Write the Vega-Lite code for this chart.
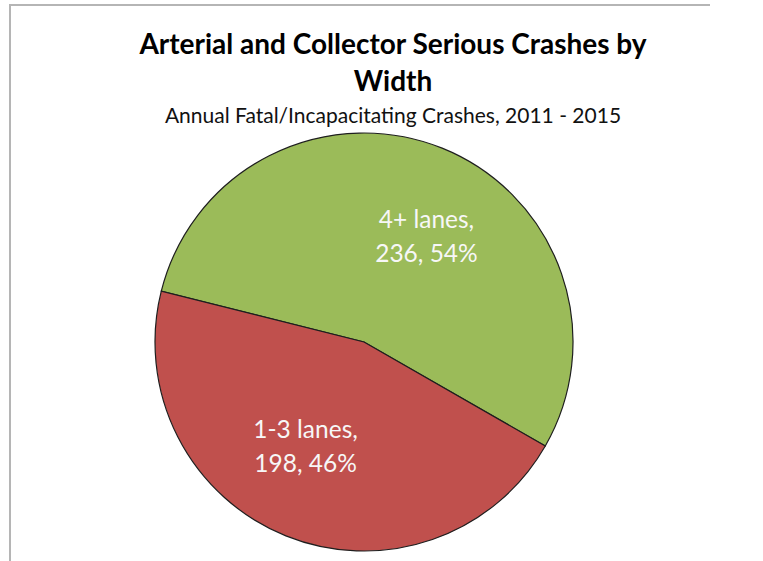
{
  "$schema": "https://vega.github.io/schema/vega-lite/v6.json",
  "autosize": {"type": "none"},
  "padding": {"left": 10, "top": 5, "right": 45, "bottom": -118},
  "width": 708,
  "height": 674,
  "background": "white",
  "view": {"stroke": "#b5b5b5", "strokeWidth": 2, "strokeDash": [700, 1390, 674]},
  "title": {
    "text": ["Arterial and Collector Serious Crashes by", "Width"],
    "subtitle": "Annual Fatal/Incapacitating Crashes, 2011 - 2015",
    "anchor": "middle",
    "font": "Lato",
    "fontSize": 28,
    "fontWeight": "bold",
    "color": "#000000",
    "lineHeight": 37,
    "subtitleFont": "Lato",
    "subtitleFontSize": 21,
    "subtitleColor": "#111111",
    "subtitlePadding": 9,
    "offset": 0,
    "dx": 29,
    "dy": 122
  },
  "data": {
    "values": [
      {"lanes": "4+ lanes", "crashes": 236, "share": "54%"},
      {"lanes": "1-3 lanes", "crashes": 198, "share": "46%"}
    ]
  },
  "layer": [
    {
      "mark": {"type": "arc", "outerRadius": 209, "stroke": "#1e1e1e", "strokeWidth": 1.2},
      "encoding": {
        "theta": {"field": "crashes", "type": "quantitative", "stack": true, "scale": {"range": [-1.325, 4.958]}},
        "order": {"field": "lanes", "sort": "descending"},
        "color": {
          "field": "lanes",
          "type": "nominal",
          "scale": {"domain": ["4+ lanes", "1-3 lanes"], "range": ["#9BBB59", "#C0504D"]},
          "legend": null
        }
      }
    },
    {
      "transform": [
        {"calculate": "datum.lanes + ',\\n' + datum.crashes + ', ' + datum.share", "as": "label"}
      ],
      "mark": {
        "type": "text",
        "radius": 121,
        "font": "Lato",
        "fontSize": 24.5,
        "lineHeight": 34,
        "color": "#f7f7f7",
        "align": "center",
        "baseline": "middle",
        "lineBreak": "\n",
        "dx": 2,
        "dy": -16
      },
      "encoding": {
        "theta": {"field": "crashes", "type": "quantitative", "stack": true, "scale": {"range": [-1.185, 5.098]}},
        "order": {"field": "lanes", "sort": "descending"},
        "text": {"field": "label"}
      }
    }
  ],
  "resolve": {"scale": {"theta": "independent"}}
}
